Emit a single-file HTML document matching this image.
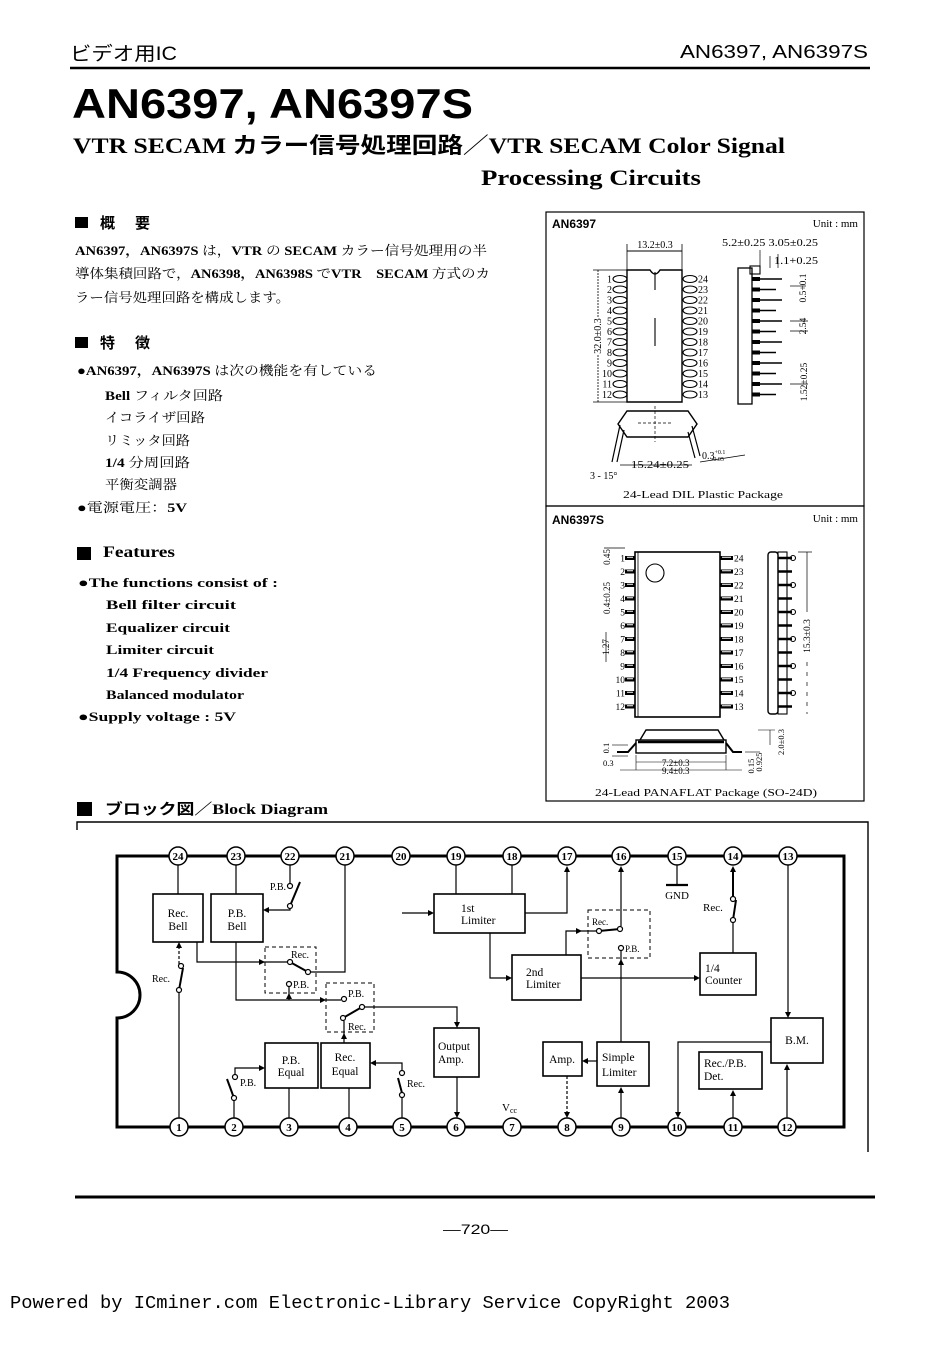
<!DOCTYPE html>
<html><head><meta charset="utf-8"><style>
html,body{margin:0;padding:0;background:#fff;}
svg{display:block;}
.s{font-family:"Liberation Sans","Noto Sans CJK JP",sans-serif;}
.r{font-family:"Liberation Serif","Noto Serif CJK SC","Noto Sans CJK JP",serif;}
.m{font-family:"Liberation Mono",monospace;}
</style></head><body>
<svg width="934" height="1350" viewBox="0 0 934 1350" xmlns="http://www.w3.org/2000/svg">
<rect width="934" height="1350" fill="#fff"/>

<!-- Header -->
<text class="s" x="70" y="60" font-size="19" textLength="107" lengthAdjust="spacingAndGlyphs">ビデオ用IC</text>
<text class="s" x="680" y="58" font-size="18" textLength="188" lengthAdjust="spacingAndGlyphs">AN6397, AN6397S</text>
<line x1="70" y1="68" x2="870" y2="68" stroke="#000" stroke-width="2.5"/>
<text class="s" x="72" y="118" font-size="42" font-weight="bold" textLength="401" lengthAdjust="spacingAndGlyphs">AN6397, AN6397S</text>
<text class="r" x="73" y="153" font-size="22" font-weight="bold" textLength="712" lengthAdjust="spacingAndGlyphs">VTR SECAM <tspan class="s">カラー信号処理回路</tspan>／VTR SECAM Color Signal</text>
<text class="r" x="481" y="185" font-size="22" font-weight="bold" textLength="220" lengthAdjust="spacingAndGlyphs">Processing Circuits</text>

<!-- Left text -->
<rect x="75" y="217" width="13" height="11" fill="#000"/>
<text class="s" x="100" y="228" font-size="15" font-weight="bold">概</text>
<text class="s" x="135" y="228" font-size="15" font-weight="bold">要</text>
<g class="r" font-size="13">
<text x="75" y="255" textLength="412" lengthAdjust="spacingAndGlyphs"><tspan font-weight="bold">AN6397，AN6397S</tspan> は，<tspan font-weight="bold">VTR</tspan> の <tspan font-weight="bold">SECAM</tspan> カラー信号処理用の半</text>
<text x="75" y="278" textLength="415" lengthAdjust="spacingAndGlyphs">導体集積回路で，<tspan font-weight="bold">AN6398，AN6398S</tspan> で<tspan font-weight="bold">VTR　SECAM</tspan> 方式のカ</text>
<text x="75" y="302" textLength="215" lengthAdjust="spacingAndGlyphs">ラー信号処理回路を構成します。</text>
</g>
<rect x="75" y="337" width="13" height="11" fill="#000"/>
<text class="s" x="100" y="348" font-size="15" font-weight="bold">特</text>
<text class="s" x="135" y="348" font-size="15" font-weight="bold">徴</text>
<g class="r" font-size="13">
<text x="77" y="375" textLength="300" lengthAdjust="spacingAndGlyphs">●<tspan font-weight="bold">AN6397，AN6397S</tspan> は次の機能を有している</text>
<text x="105" y="400" textLength="118" lengthAdjust="spacingAndGlyphs"><tspan font-weight="bold">Bell</tspan> フィルタ回路</text>
<text x="105" y="422" textLength="100" lengthAdjust="spacingAndGlyphs">イコライザ回路</text>
<text x="105" y="445" textLength="85" lengthAdjust="spacingAndGlyphs">リミッタ回路</text>
<text x="105" y="467" textLength="85" lengthAdjust="spacingAndGlyphs"><tspan font-weight="bold">1/4</tspan> 分周回路</text>
<text x="105" y="489" textLength="72" lengthAdjust="spacingAndGlyphs">平衡変調器</text>
<text x="77" y="512" textLength="110" lengthAdjust="spacingAndGlyphs">●電源電圧：<tspan font-weight="bold">5V</tspan></text>
</g>
<rect x="77" y="547" width="14" height="13" fill="#000"/>
<text class="r" x="103" y="557" font-size="16" font-weight="bold" textLength="72" lengthAdjust="spacingAndGlyphs">Features</text>
<g class="r" font-size="13" font-weight="bold">
<text x="78" y="587" textLength="200" lengthAdjust="spacingAndGlyphs">●The functions consist of :</text>
<text x="106" y="609" textLength="130" lengthAdjust="spacingAndGlyphs">Bell filter circuit</text>
<text x="106" y="632" textLength="124" lengthAdjust="spacingAndGlyphs">Equalizer circuit</text>
<text x="106" y="654" textLength="108" lengthAdjust="spacingAndGlyphs">Limiter circuit</text>
<text x="106" y="677" textLength="162" lengthAdjust="spacingAndGlyphs">1/4 Frequency divider</text>
<text x="106" y="699" textLength="138" lengthAdjust="spacingAndGlyphs">Balanced modulator</text>
<text x="78" y="721" textLength="158" lengthAdjust="spacingAndGlyphs">●Supply voltage : 5V</text>
</g>
<rect x="77" y="802" width="15" height="14" fill="#000"/>
<text class="r" x="105" y="814" font-size="15" font-weight="bold" textLength="223" lengthAdjust="spacingAndGlyphs"><tspan class="s">ブロック図／</tspan>Block Diagram</text>

<!-- Package panels -->
<g stroke="#000" fill="none" stroke-width="1.2">
<rect x="546" y="212" width="318" height="294"/>
<rect x="546" y="506" width="318" height="295"/>
</g>
<text class="s" x="552" y="228" font-size="12" font-weight="bold">AN6397</text>
<text class="r" x="858" y="227" font-size="11" text-anchor="end">Unit : mm</text>
<text class="s" x="552" y="524" font-size="12" font-weight="bold">AN6397S</text>
<text class="r" x="858" y="522" font-size="11" text-anchor="end">Unit : mm</text>

<!-- DIP top view -->
<g stroke="#000" fill="none" stroke-width="1.1">
<path d="M627,402 V270 H650 Q655,278 660,270 H682 V402 Z" stroke-width="1.4"/>
<line x1="655" y1="272" x2="655" y2="290"/>
<line x1="655" y1="318" x2="655" y2="346"/>
<line x1="627" y1="251" x2="682" y2="251" stroke-width="0.9"/>
<line x1="627" y1="244" x2="627" y2="270" stroke-width="0.8"/>
<line x1="682" y1="244" x2="682" y2="270" stroke-width="0.8"/>
<line x1="598" y1="270" x2="598" y2="318" stroke-width="0.8" stroke-dasharray="2,1"/>
<line x1="598" y1="355" x2="598" y2="402" stroke-width="0.8" stroke-dasharray="2,1"/>
<line x1="593" y1="270" x2="627" y2="270" stroke-width="0.7"/>
<line x1="593" y1="402" x2="627" y2="402" stroke-width="0.7"/>
<ellipse cx="620" cy="279" rx="7" ry="3.5"/><ellipse cx="620" cy="289.5" rx="7" ry="3.5"/><ellipse cx="620" cy="300" rx="7" ry="3.5"/><ellipse cx="620" cy="310.5" rx="7" ry="3.5"/><ellipse cx="620" cy="321" rx="7" ry="3.5"/><ellipse cx="620" cy="331.5" rx="7" ry="3.5"/><ellipse cx="620" cy="342" rx="7" ry="3.5"/><ellipse cx="620" cy="352.5" rx="7" ry="3.5"/><ellipse cx="620" cy="363" rx="7" ry="3.5"/><ellipse cx="620" cy="373.5" rx="7" ry="3.5"/><ellipse cx="620" cy="384" rx="7" ry="3.5"/><ellipse cx="620" cy="394.5" rx="7" ry="3.5"/>
<ellipse cx="690" cy="279" rx="7" ry="3.5"/><ellipse cx="690" cy="289.5" rx="7" ry="3.5"/><ellipse cx="690" cy="300" rx="7" ry="3.5"/><ellipse cx="690" cy="310.5" rx="7" ry="3.5"/><ellipse cx="690" cy="321" rx="7" ry="3.5"/><ellipse cx="690" cy="331.5" rx="7" ry="3.5"/><ellipse cx="690" cy="342" rx="7" ry="3.5"/><ellipse cx="690" cy="352.5" rx="7" ry="3.5"/><ellipse cx="690" cy="363" rx="7" ry="3.5"/><ellipse cx="690" cy="373.5" rx="7" ry="3.5"/><ellipse cx="690" cy="384" rx="7" ry="3.5"/><ellipse cx="690" cy="394.5" rx="7" ry="3.5"/>
</g>
<g class="r" font-size="10" text-anchor="end">
<text x="612" y="282.5">1</text><text x="612" y="293">2</text><text x="612" y="303.5">3</text><text x="612" y="314">4</text><text x="612" y="324.5">5</text><text x="612" y="335">6</text><text x="612" y="345.5">7</text><text x="612" y="356">8</text><text x="612" y="366.5">9</text><text x="612" y="377">10</text><text x="612" y="387.5">11</text><text x="612" y="398">12</text>
</g>
<g class="r" font-size="10">
<text x="698" y="282.5">24</text><text x="698" y="293">23</text><text x="698" y="303.5">22</text><text x="698" y="314">21</text><text x="698" y="324.5">20</text><text x="698" y="335">19</text><text x="698" y="345.5">18</text><text x="698" y="356">17</text><text x="698" y="366.5">16</text><text x="698" y="377">15</text><text x="698" y="387.5">14</text><text x="698" y="398">13</text>
</g>
<text class="r" x="655" y="248" font-size="10" text-anchor="middle">13.2±0.3</text>
<text class="r" font-size="10" text-anchor="middle" transform="translate(601,336) rotate(-90)">32.0±0.3</text>

<!-- DIP side view -->
<g stroke="#000" fill="none" stroke-width="1.1">
<rect x="738" y="268" width="14" height="136" stroke-width="1.3"/>
<rect x="750" y="266" width="10" height="8"/>
<path d="M752,279 h8 M752,289.5 h8 M752,300 h8 M752,310.5 h8 M752,321 h8 M752,331.5 h8 M752,342 h8 M752,352.5 h8 M752,363 h8 M752,373.5 h8 M752,384 h8 M752,394.5 h8" stroke-width="4"/>
<path d="M760,279 h22 M760,289.5 h16 M760,300 h22 M760,310.5 h16 M760,321 h22 M760,331.5 h16 M760,342 h22 M760,352.5 h16 M760,363 h22 M760,373.5 h16 M760,384 h22 M760,394.5 h16" stroke-width="1.6"/>
<line x1="760" y1="250" x2="760" y2="268" stroke-width="0.7"/>
<line x1="770" y1="256" x2="770" y2="268" stroke-width="0.7"/>
<line x1="778" y1="254" x2="778" y2="268" stroke-width="0.7"/>
<line x1="790" y1="286" x2="806" y2="286" stroke-width="0.7"/>
<line x1="790" y1="321" x2="808" y2="321" stroke-width="0.7"/>
<line x1="790" y1="331" x2="808" y2="331" stroke-width="0.7"/>
<line x1="790" y1="384" x2="808" y2="384" stroke-width="0.7"/>
</g>
<text class="r" x="722" y="246" font-size="10" textLength="96" lengthAdjust="spacingAndGlyphs">5.2±0.25 3.05±0.25</text>
<text class="r" x="774" y="264" font-size="10" textLength="44" lengthAdjust="spacingAndGlyphs">1.1+0.25</text>
<text class="r" font-size="9.5" text-anchor="middle" transform="translate(806,288) rotate(-90)">0.5+0.1</text>
<text class="r" font-size="9.5" text-anchor="middle" transform="translate(806,326) rotate(-90)">2.54</text>
<text class="r" font-size="9.5" text-anchor="middle" transform="translate(807,382) rotate(-90)">1.52±0.25</text>

<!-- DIP end view -->
<g stroke="#000" fill="none" stroke-width="1.2">
<path d="M627,411 H688 L697,424 L688,437 H627 L618,424 Z" stroke-width="1.4"/>
<path d="M620,425 L612,462 M624,430 L617,462"/>
<path d="M692,426 L700,456 M688,432 L695,458"/>
<line x1="655" y1="406" x2="655" y2="442" stroke-width="0.7" stroke-dasharray="3,2"/>
<line x1="638" y1="423" x2="672" y2="423" stroke-width="0.7" stroke-dasharray="3,2"/>
<line x1="620" y1="465" x2="692" y2="465" stroke-width="0.7"/>
<line x1="700" y1="462" x2="745" y2="455" stroke-width="0.7"/>
</g>
<text class="r" x="631" y="468" font-size="10" textLength="58" lengthAdjust="spacingAndGlyphs">15.24±0.25</text>
<text class="r" x="702" y="459" font-size="10">0.3<tspan font-size="6" dy="-5">+0.1</tspan><tspan font-size="6" dx="-14" dy="7">-0.05</tspan></text>
<text class="r" x="590" y="479" font-size="10">3 - 15°</text>
<text class="r" x="703" y="498" font-size="11" text-anchor="middle" textLength="160" lengthAdjust="spacingAndGlyphs">24-Lead DIL Plastic Package</text>

<!-- SOP top view -->
<g stroke="#000" fill="none" stroke-width="1.1">
<rect x="635" y="552" width="85" height="165" stroke-width="1.6"/>
<line x1="638" y1="552" x2="638" y2="717" stroke-width="0.8"/>
<circle cx="655" cy="573" r="9"/>
<path d="M625,558 h10 M625,571.5 h10 M625,585 h10 M625,598.5 h10 M625,612 h10 M625,625.5 h10 M625,639 h10 M625,652.5 h10 M625,666 h10 M625,679.5 h10 M625,693 h10 M625,706.5 h10" stroke-width="4"/>
<path d="M720,558 h13 M720,571.5 h13 M720,585 h13 M720,598.5 h13 M720,612 h13 M720,625.5 h13 M720,639 h13 M720,652.5 h13 M720,666 h13 M720,679.5 h13 M720,693 h13 M720,706.5 h13" stroke-width="4"/>
<line x1="604" y1="548" x2="625" y2="548" stroke-width="0.7"/>
<line x1="606" y1="632" x2="606" y2="662" stroke-width="0.7"/>
</g>
<g fill="#fff">
<path d="M627,557.2 h6 M627,570.7 h6 M627,584.2 h6 M627,597.7 h6 M627,611.2 h6 M627,624.7 h6 M627,638.2 h6 M627,651.7 h6 M627,665.2 h6 M627,678.7 h6 M627,692.2 h6 M627,705.7 h6" stroke="#fff" stroke-width="1"/>
<path d="M722,557.2 h9 M722,570.7 h9 M722,584.2 h9 M722,597.7 h9 M722,611.2 h9 M722,624.7 h9 M722,638.2 h9 M722,651.7 h9 M722,665.2 h9 M722,678.7 h9 M722,692.2 h9 M722,705.7 h9" stroke="#fff" stroke-width="1"/>
</g>
<g class="r" font-size="9.5" text-anchor="end">
<text x="625" y="561.5">1</text><text x="625" y="575">2</text><text x="625" y="588.5">3</text><text x="625" y="602">4</text><text x="625" y="615.5">5</text><text x="625" y="629">6</text><text x="625" y="642.5">7</text><text x="625" y="656">8</text><text x="625" y="669.5">9</text><text x="625" y="683">10</text><text x="625" y="696.5">11</text><text x="625" y="710">12</text>
</g>
<g class="r" font-size="9.5">
<text x="734" y="561.5">24</text><text x="734" y="575">23</text><text x="734" y="588.5">22</text><text x="734" y="602">21</text><text x="734" y="615.5">20</text><text x="734" y="629">19</text><text x="734" y="642.5">18</text><text x="734" y="656">17</text><text x="734" y="669.5">16</text><text x="734" y="683">15</text><text x="734" y="696.5">14</text><text x="734" y="710">13</text>
</g>
<text class="r" font-size="9" text-anchor="middle" transform="translate(610,557) rotate(-90)">0.45</text>
<text class="r" font-size="9" text-anchor="middle" transform="translate(610,598) rotate(-90)">0.4±0.25</text>
<text class="r" font-size="9" text-anchor="middle" transform="translate(609,647) rotate(-90)">1.27</text>

<!-- SOP side view -->
<g stroke="#000" fill="none" stroke-width="1.1">
<rect x="768" y="552" width="10" height="162" rx="3" stroke-width="1.4"/>
<rect x="778" y="552" width="9" height="162"/>
<path d="M778,558 h14 M778,571.5 h14 M778,585 h14 M778,598.5 h14 M778,612 h14 M778,625.5 h14 M778,639 h14 M778,652.5 h14 M778,666 h14 M778,679.5 h14 M778,693 h14 M778,706.5 h14" stroke-width="2.5"/>
<circle cx="793" cy="558" r="2.5"/><circle cx="793" cy="585" r="2.5"/><circle cx="793" cy="612" r="2.5"/><circle cx="793" cy="639" r="2.5"/><circle cx="793" cy="666" r="2.5"/><circle cx="793" cy="693" r="2.5"/>
<line x1="807" y1="552" x2="807" y2="612" stroke-width="0.7"/>
<line x1="807" y1="662" x2="807" y2="714" stroke-width="0.7" stroke-dasharray="4,6"/>
<line x1="798" y1="552" x2="812" y2="552" stroke-width="0.7"/>
</g>
<text class="r" font-size="9.5" text-anchor="middle" transform="translate(810,636) rotate(-90)">15.3±0.3</text>

<!-- SOP front view -->
<g stroke="#000" fill="none" stroke-width="1.2">
<path d="M640,740 L646,730 H718 L724,740" stroke-width="1.4"/>
<rect x="636" y="740" width="90" height="13" stroke-width="1.4"/>
<line x1="638" y1="742" x2="724" y2="742" stroke-width="2.5"/>
<path d="M636,743 L628,752 H617" stroke-width="2"/>
<path d="M726,743 L733,752 H742" stroke-width="2"/>
<line x1="612" y1="745" x2="628" y2="745" stroke-width="0.6"/>
<line x1="612" y1="756" x2="628" y2="756" stroke-width="0.6"/>
<line x1="636" y1="762" x2="726" y2="762" stroke-width="0.6"/>
<line x1="620" y1="770" x2="742" y2="770" stroke-width="0.6"/>
<line x1="636" y1="755" x2="636" y2="770" stroke-width="0.6"/>
<line x1="726" y1="755" x2="726" y2="770" stroke-width="0.6"/>
<line x1="770" y1="730" x2="770" y2="745" stroke-width="0.6"/>
<line x1="758" y1="730" x2="775" y2="730" stroke-width="0.6"/>
<line x1="745" y1="752" x2="760" y2="752" stroke-width="0.6"/>
</g>
<text class="r" x="662" y="766" font-size="9">7.2±0.3</text>
<text class="r" x="662" y="774" font-size="9">9.4±0.3</text>
<text class="r" font-size="8.5" text-anchor="middle" transform="translate(609,748) rotate(-90)">0.1</text>
<text class="r" font-size="8.5" x="603" y="766">0.3</text>
<text class="r" font-size="8.5" text-anchor="middle" transform="translate(754,766) rotate(-90)">0.15</text>
<text class="r" font-size="8.5" text-anchor="middle" transform="translate(762,762) rotate(-90)">0.925</text>
<text class="r" font-size="8.5" text-anchor="middle" transform="translate(784,742) rotate(-90)">2.0±0.3</text>
<text class="r" x="706" y="796" font-size="11" text-anchor="middle" textLength="222" lengthAdjust="spacingAndGlyphs">24-Lead PANAFLAT Package (SO-24D)</text>

<!-- Block diagram -->
<path d="M77,830 V822 H868 V1152" stroke="#000" fill="none" stroke-width="1.4"/>
<path d="M117,856 H844 V1127 H117 V1018 A23,23 0 0 0 117,972 Z" stroke="#000" fill="none" stroke-width="3"/>

<g stroke="#000" fill="none" stroke-width="1.6">
<rect x="153" y="894" width="50" height="48"/>
<rect x="211" y="894" width="52" height="48"/>
<rect x="265" y="1043" width="53" height="45"/>
<rect x="321" y="1043" width="49" height="45"/>
<rect x="434" y="1028" width="45" height="49"/>
<rect x="434" y="894" width="91" height="39"/>
<rect x="512" y="955" width="69" height="45"/>
<rect x="543" y="1042" width="39" height="34"/>
<rect x="597" y="1042" width="52" height="44"/>
<rect x="700" y="953" width="56" height="42"/>
<rect x="771" y="1018" width="52" height="45"/>
<rect x="699" y="1052" width="63" height="37"/>
</g>
<g stroke="#000" fill="none" stroke-width="1" stroke-dasharray="4,3">
<rect x="265" y="947" width="51" height="46"/>
<rect x="326" y="983" width="48" height="49"/>
<rect x="588" y="910" width="62" height="48"/>
</g>

<g stroke="#000" fill="none" stroke-width="1.2">
<path d="M178,865 V894"/>
<path d="M236,865 V894"/>
<path d="M290,865 V883"/>
<path d="M290,908 V910 H268"/>
<path d="M345,865 V972 H311"/>
<path d="M197,942 V962 H287"/>
<path d="M289,987 V1000"/>
<path d="M236,942 V1000 H341"/>
<path d="M365,1007 H457 V1022"/>
<path d="M344,1021 V1043"/>
<path d="M289,1088 V1118"/>
<path d="M349,1088 V1118"/>
<path d="M234,1118 V1101"/>
<path d="M235,1074 V1068 H260"/>
<path d="M402,1118 V1098"/>
<path d="M402,1070 V1063 H376"/>
<path d="M179,1118 V993"/>
<path d="M179,964 V948" stroke-dasharray="3,2"/>
<path d="M457,1077 V1112"/>
<path d="M402,913 H428"/>
<path d="M456,865 V894"/>
<path d="M512,865 V894"/>
<path d="M525,913 H567 V872"/>
<path d="M490,933 V978 H506"/>
<path d="M566,955 V931 H596"/>
<path d="M621,926 V872"/>
<path d="M621,1042 V951"/>
<path d="M581,978 H694"/>
<path d="M733,953 V923"/>
<path d="M733,896 V872" stroke-width="2"/>
<path d="M677,865 V885"/>
<path d="M666,885 H688" stroke-width="2.2"/>
<path d="M788,865 V1012"/>
<path d="M771,1042 H678 V1112"/>
<path d="M787,1118 V1070"/>
<path d="M733,1118 V1096"/>
<path d="M597,1061 H588"/>
<path d="M567,1076 V1112" stroke-dasharray="3,2"/>
<path d="M621,1118 V1093"/>
</g>
<!-- switch blades -->
<g stroke="#000" stroke-width="2" fill="none">
<path d="M290,906 L300,882"/>
<path d="M290,962 L308,972"/>
<path d="M343,1018 L362,1007"/>
<path d="M234,1098 L227,1079"/>
<path d="M402,1093 L398,1078"/>
<path d="M179,990 L183,968"/>
<path d="M599,931 L620,929"/>
<path d="M733,920 L736,900"/>
</g>
<!-- arrows -->
<g fill="#000">
<polygon points="263,910 269,907 269,913"/>
<polygon points="265,962 259,959 259,965"/>
<polygon points="289,993 286,999 292,999"/>
<polygon points="326,1000 320,997 320,1003"/>
<polygon points="457,1028 454,1022 460,1022"/>
<polygon points="344,1033 341,1039 347,1039"/>
<polygon points="265,1068 259,1065 259,1071"/>
<polygon points="370,1063 376,1060 376,1066"/>
<polygon points="179,942 176,948 182,948"/>
<polygon points="457,1118 454,1112 460,1112"/>
<polygon points="434,913 428,910 428,916"/>
<polygon points="567,866 564,872 570,872"/>
<polygon points="512,978 506,975 506,981"/>
<polygon points="582,931 576,928 576,934"/>
<polygon points="621,866 618,872 624,872"/>
<polygon points="621,959 618,965 624,965"/>
<polygon points="700,978 694,975 694,981"/>
<polygon points="733,866 730,872 736,872"/>
<polygon points="788,1018 785,1012 791,1012"/>
<polygon points="678,1118 675,1112 681,1112"/>
<polygon points="787,1064 784,1070 790,1070"/>
<polygon points="733,1090 730,1096 736,1096"/>
<polygon points="582,1061 588,1058 588,1064"/>
<polygon points="567,1118 564,1112 570,1112"/>
<polygon points="621,1087 618,1093 624,1093"/>
</g>
<!-- contacts -->
<g stroke="#000" fill="#fff" stroke-width="1.2">
<circle cx="290" cy="886" r="2.5"/><circle cx="290" cy="906" r="2.5"/>
<circle cx="290" cy="962" r="2.5"/><circle cx="308" cy="972" r="2.5"/><circle cx="289" cy="984" r="2.5"/>
<circle cx="344" cy="999" r="2.5"/><circle cx="343" cy="1018" r="2.5"/><circle cx="362" cy="1007" r="2.5"/>
<circle cx="234" cy="1098" r="2.5"/><circle cx="235" cy="1077" r="2.5"/>
<circle cx="402" cy="1095" r="2.5"/><circle cx="402" cy="1073" r="2.5"/>
<circle cx="179" cy="990" r="2.5"/><circle cx="181" cy="966" r="2.5"/>
<circle cx="599" cy="931" r="2.5"/><circle cx="620" cy="929" r="2.5"/><circle cx="621" cy="948" r="2.5"/>
<circle cx="733" cy="920" r="2.5"/><circle cx="733" cy="899" r="2.5"/>
</g>
<!-- switch labels -->
<g class="r" font-size="10">
<text x="286" y="890" text-anchor="end">P.B.</text>
<text x="291" y="958">Rec.</text>
<text x="293" y="988">P.B.</text>
<text x="348" y="997">P.B.</text>
<text x="348" y="1030">Rec.</text>
<text x="240" y="1086">P.B.</text>
<text x="407" y="1087">Rec.</text>
<text x="152" y="982">Rec.</text>
<text x="592" y="925" font-size="9">Rec.</text>
<text x="625" y="952" font-size="9">P.B.</text>
<text x="703" y="911" font-size="11">Rec.</text>
<text x="677" y="899" font-size="11" text-anchor="middle">GND</text>
<text x="502" y="1111" font-size="11">V<tspan font-size="8" dy="2">cc</tspan></text>
</g>
<!-- block labels -->
<g class="r" font-size="11.5">
<text x="178" y="917" text-anchor="middle">Rec.</text><text x="178" y="930" text-anchor="middle">Bell</text>
<text x="237" y="917" text-anchor="middle">P.B.</text><text x="237" y="930" text-anchor="middle">Bell</text>
<text x="291" y="1064" text-anchor="middle">P.B.</text><text x="291" y="1076" text-anchor="middle">Equal</text>
<text x="345" y="1061" text-anchor="middle">Rec.</text><text x="345" y="1075" text-anchor="middle">Equal</text>
<text x="438" y="1050">Output</text><text x="438" y="1063">Amp.</text>
<text x="461" y="912">1st</text><text x="461" y="924">Limiter</text>
<text x="526" y="976">2nd</text><text x="526" y="988">Limiter</text>
<text x="562" y="1063" text-anchor="middle">Amp.</text>
<text x="602" y="1061">Simple</text><text x="602" y="1076">Limiter</text>
<text x="705" y="972">1/4</text><text x="705" y="984">Counter</text>
<text x="797" y="1044" text-anchor="middle">B.M.</text>
<text x="704" y="1067">Rec./P.B.</text><text x="704" y="1080">Det.</text>
</g>
<!-- pins -->
<g stroke="#000" fill="#fff" stroke-width="1.5">
<circle cx="178" cy="856" r="9"/><circle cx="236" cy="856" r="9"/><circle cx="290" cy="856" r="9"/><circle cx="345" cy="856" r="9"/><circle cx="401" cy="856" r="9"/><circle cx="456" cy="856" r="9"/><circle cx="512" cy="856" r="9"/><circle cx="567" cy="856" r="9"/><circle cx="621" cy="856" r="9"/><circle cx="677" cy="856" r="9"/><circle cx="733" cy="856" r="9"/><circle cx="788" cy="856" r="9"/>
<circle cx="179" cy="1127" r="9"/><circle cx="234" cy="1127" r="9"/><circle cx="289" cy="1127" r="9"/><circle cx="348" cy="1127" r="9"/><circle cx="402" cy="1127" r="9"/><circle cx="456" cy="1127" r="9"/><circle cx="512" cy="1127" r="9"/><circle cx="567" cy="1127" r="9"/><circle cx="621" cy="1127" r="9"/><circle cx="677" cy="1127" r="9"/><circle cx="733" cy="1127" r="9"/><circle cx="787" cy="1127" r="9"/>
</g>
<g class="r" font-size="11" font-weight="bold" text-anchor="middle">
<text x="178" y="860">24</text><text x="236" y="860">23</text><text x="290" y="860">22</text><text x="345" y="860">21</text><text x="401" y="860">20</text><text x="456" y="860">19</text><text x="512" y="860">18</text><text x="567" y="860">17</text><text x="621" y="860">16</text><text x="677" y="860">15</text><text x="733" y="860">14</text><text x="788" y="860">13</text>
<text x="179" y="1131">1</text><text x="234" y="1131">2</text><text x="289" y="1131">3</text><text x="348" y="1131">4</text><text x="402" y="1131">5</text><text x="456" y="1131">6</text><text x="512" y="1131">7</text><text x="567" y="1131">8</text><text x="621" y="1131">9</text><text x="677" y="1131">10</text><text x="733" y="1131">11</text><text x="787" y="1131">12</text>
</g>

<!-- Footer -->
<line x1="75" y1="1197" x2="875" y2="1197" stroke="#000" stroke-width="3"/>
<text class="s" x="443" y="1234" font-size="14" textLength="65" lengthAdjust="spacingAndGlyphs">—720—</text>
<text class="m" x="10" y="1308" font-size="18" textLength="720" lengthAdjust="spacingAndGlyphs">Powered by ICminer.com Electronic-Library Service CopyRight 2003</text>
</svg>
</body></html>
